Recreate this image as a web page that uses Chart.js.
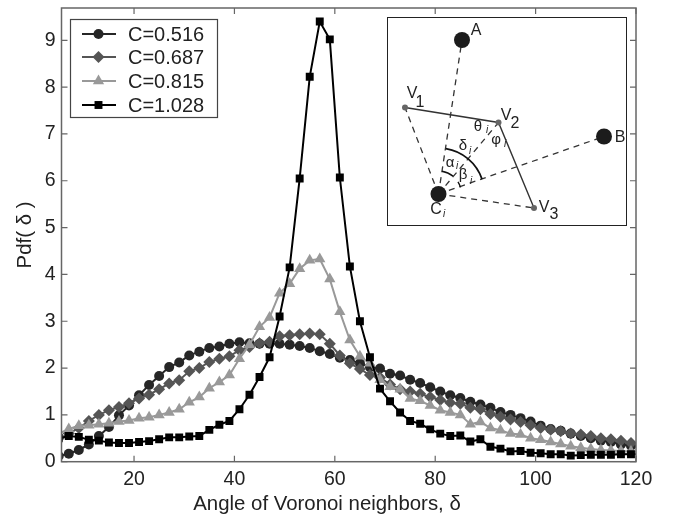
<!DOCTYPE html>
<html><head><meta charset="utf-8">
<script src="https://cdn.jsdelivr.net/npm/chart.js@4"></script>
<style>
html,body{margin:0;padding:0;background:#fff;width:681px;height:516px;overflow:hidden}
#main{position:absolute;left:0;top:0;width:681px;height:516px}
#insetBox{position:absolute;left:387px;top:17px;width:238px;height:207px;border:1.5px solid #222;background:#fff}
</style></head><body>
<div id="main"><canvas id="c" width="681" height="516"></canvas></div>
<div id="insetBox"><canvas id="i" width="238" height="207"></canvas></div>
<script>
const angles=[5,7,9,11,13,15,17,19,21,23,25,27,29,31,33,35,37,39,41,43,45,47,49,51,53,55,57,59,61,63,65,67,69,71,73,75,77,79,81,83,85,87,89,91,93,95,97,99,101,103,105,107,109,111,113,115,117,119,121];
const c516=[.12,.17,.25,.37,.55,.74,.99,1.2,1.42,1.64,1.83,2.02,2.12,2.27,2.35,2.43,2.46,2.52,2.55,2.53,2.52,2.52,2.52,2.5,2.47,2.43,2.36,2.3,2.22,2.17,2.1,2.02,1.99,1.88,1.84,1.75,1.68,1.59,1.5,1.42,1.36,1.28,1.22,1.15,1.06,1,.93,.86,.77,.7,.66,.6,.55,.5,.45,.42,.37,.34,.31];
const c687=[.5,.6,.72,.87,1,1.1,1.17,1.25,1.35,1.43,1.55,1.67,1.74,1.93,2,2.13,2.2,2.25,2.38,2.45,2.53,2.56,2.68,2.7,2.72,2.74,2.72,2.52,2.27,2.1,1.98,1.85,1.8,1.65,1.55,1.5,1.45,1.38,1.32,1.26,1.24,1.15,1.12,1.02,.96,.9,.85,.78,.72,.68,.65,.6,.58,.55,.5,.48,.45,.4,.38];
const c815=[.6,.7,.77,.78,.8,.82,.86,.88,.93,.95,1,1.05,1.12,1.27,1.38,1.57,1.7,1.85,2.2,2.5,2.88,3.08,3.6,3.8,4.12,4.3,4.33,3.9,3.2,2.6,2.25,2.1,1.75,1.6,1.55,1.35,1.3,1.2,1.1,1.05,1,.8,.85,.72,.67,.6,.58,.5,.47,.42,.38,.33,.3,.27,.25,.24,.23,.22,.21];
const c1028=[.5,.55,.53,.47,.45,.41,.4,.4,.42,.44,.48,.52,.52,.54,.55,.68,.79,.87,1.12,1.43,1.81,2.23,3.1,4.15,6.05,8.22,9.4,9.02,6.07,4.17,3,2.23,1.56,1.29,1.05,.87,.81,.69,.6,.55,.56,.43,.48,.32,.28,.22,.23,.19,.18,.16,.16,.13,.14,.15,.15,.15,.16,.16,.16];
const seriesNames=["C=0.516","C=0.687","C=0.815","C=1.028"];
const xTicks=[20,40,60,80,100,120];
const yTicks=[0,1,2,3,4,5,6,7,8,9];
const xTitle='Angle of Voronoi neighbors, δ';
const yTitle='Pdf( δ )';
const FONT='"Liberation Sans", Arial, sans-serif';
const AXIS='#666';
function ds(name,vals,col,style,r,ord){
  return {label:name,data:angles.map((a,i)=>({x:a,y:vals[i]})),borderColor:col,backgroundColor:col,
    borderWidth:2,pointStyle:style,pointRadius:r,pointBorderWidth:0,order:ord,tension:0};
}
const frame={id:'frame',afterDatasetsDraw(ch){
  const g=ch.ctx,a=ch.chartArea,X=ch.scales.x,Y=ch.scales.y;
  g.save();g.strokeStyle=AXIS;g.lineWidth=1.5;
  g.strokeRect(a.left,a.top,a.right-a.left,a.bottom-a.top);
  g.lineWidth=1.2;g.beginPath();
  xTicks.forEach(v=>{const p=X.getPixelForValue(v);g.moveTo(p,a.bottom);g.lineTo(p,a.bottom-6);g.moveTo(p,a.top);g.lineTo(p,a.top+6);});
  yTicks.forEach(v=>{const p=Y.getPixelForValue(v);g.moveTo(a.left,p);g.lineTo(a.left+6,p);g.moveTo(a.right,p);g.lineTo(a.right-6,p);});
  g.stroke();
  // legend
  const L=70.5,T=19.5,W=147,H=98;
  g.fillStyle='#fff';g.fillRect(L,T,W,H);g.strokeStyle='#444';g.lineWidth=1.2;g.strokeRect(L,T,W,H);
  const rows=[34,57,81,105];
  ch.data.datasets.forEach((d,i)=>{
    const y=rows[i];
    g.strokeStyle=d.borderColor;g.lineWidth=2;g.beginPath();g.moveTo(82,y);g.lineTo(116,y);g.stroke();
    g.fillStyle=d.backgroundColor;g.strokeStyle=d.backgroundColor;g.lineWidth=0;
    Chart.helpers.drawPoint(g,{pointStyle:d.pointStyle,radius:d.pointRadius,borderWidth:0},98.5,y);
    g.fillStyle='#222';g.font='20px '+FONT;g.textAlign='left';g.textBaseline='middle';
    g.fillText(d.label,128,y+1);
  });
  // axis titles
  g.fillStyle='#222';g.font='20.4px '+FONT;g.textAlign='center';g.textBaseline='middle';
  g.fillText(xTitle,327,504);
  g.translate(25,235);g.rotate(-Math.PI/2);g.fillText(yTitle,0,0);
  g.restore();
}};
function noPad(s){s.paddingTop=0;s.paddingBottom=0;s.paddingLeft=0;s.paddingRight=0;}
new Chart(document.getElementById('c'),{type:'line',
  data:{datasets:[ds(seriesNames[0],c516,'#262626','circle',5,4),ds(seriesNames[1],c687,'#555','rectRot',6,3),
    ds(seriesNames[2],c815,'#999','triangle',6.5,2),ds(seriesNames[3],c1028,'#000','rect',5.6,1)]},
  options:{responsive:false,animation:false,
    layout:{autoPadding:false,padding:{top:8,right:45,left:0,bottom:0}},
    plugins:{legend:{display:false},tooltip:{enabled:false}},
    scales:{
      x:{type:'linear',min:5.55,max:120,grid:{display:false,drawTicks:false},border:{display:false},
        afterBuildTicks(s){s.ticks=xTicks.map(v=>({value:v}));},
        afterFit(s){s.height=54.3;noPad(s);},
        ticks:{font:{family:FONT,size:19.5},color:'#222',padding:6,maxRotation:0,autoSkip:false}},
      y:{type:'linear',min:0,max:9.69,grid:{display:false,drawTicks:false},border:{display:false},
        afterBuildTicks(s){s.ticks=yTicks.map(v=>({value:v}));},
        afterFit(s){s.width=61.5;noPad(s);},
        ticks:{font:{family:FONT,size:19.5},color:'#222',padding:6,autoSkip:false}}
    }},
  plugins:[frame]});

// inset schematic, read in the inset's own 238 x 207 units
const sites=[{x:74,y:22},{x:216,y:118.5},{x:50.5,y:176}];
const vertices=[{x:17,y:89.5},{x:110.5,y:104.5},{x:146,y:190}];
const siteC=sites[2];
const insetLabels=[["A",88,13,16],["B",232,120,16],["V",24,76,16],["1",32,85,16],["V",118,98,16],["2",127,106,16],
  ["V",156,190,16],["3",166,197,16],["C",48,192,16],["θ",90,109,15],["φ",108,122,15],["δ",75,128,15],["α",62,145,15],["β",75,157,15]];
const insetSubs=[["i",99,112],["i",117,126],["i",82,133],["i",69,148],["i",83,163],["i",56,196]];
const insetChart={id:'insetChart',afterDatasetsDraw(ch){
  const g=ch.ctx,X=ch.scales.x,Y=ch.scales.y;
  g.save();g.fillStyle='#222';g.textAlign='center';g.textBaseline='middle';
  insetLabels.forEach(t=>{g.font=t[3]+'px '+FONT;g.fillText(t[0],X.getPixelForValue(t[1]),Y.getPixelForValue(t[2]));});
  g.font='italic 10px '+FONT;
  insetSubs.forEach(t=>g.fillText(t[0],X.getPixelForValue(t[1]),Y.getPixelForValue(t[2])));
  const cx=X.getPixelForValue(siteC.x),cy=Y.getPixelForValue(siteC.y);
  g.strokeStyle='#111';g.lineWidth=1.8;
  g.beginPath();g.arc(cx,cy,46,-1.41,-0.33);g.stroke();
  g.lineWidth=1.4;
  g.beginPath();g.arc(cx,cy,23,-1.42,-0.89);g.stroke();
  g.beginPath();g.arc(cx,cy,23,-0.56,-0.29);g.stroke();
  g.restore();
}};
function seg(a,b,col,w,dash){return {data:[a,b],showLine:true,borderColor:col,borderWidth:w,borderDash:dash,pointRadius:0};}
const D=[6,5];
new Chart(document.getElementById('i'),{type:'scatter',
  data:{datasets:[
    {data:sites,pointRadius:8,backgroundColor:'#1c1c1c',pointBorderWidth:0,showLine:false},
    {data:vertices,pointRadius:3,backgroundColor:'#666',pointBorderWidth:0,showLine:true,borderColor:'#333',borderWidth:1.4},
    seg(siteC,sites[0],'#333',1.3,D),seg(siteC,sites[1],'#333',1.3,D),
    seg(siteC,vertices[0],'#333',1.3,D),seg(siteC,vertices[1],'#333',1.3,D),seg(siteC,vertices[2],'#333',1.3,D)]},
  options:{responsive:false,animation:false,layout:{autoPadding:false,padding:0},
    plugins:{legend:{display:false},tooltip:{enabled:false}},
    scales:{x:{type:'linear',display:false,min:0,max:238},y:{type:'linear',display:false,min:0,max:207,reverse:true}}},
  plugins:[insetChart]});
</script></body></html>
